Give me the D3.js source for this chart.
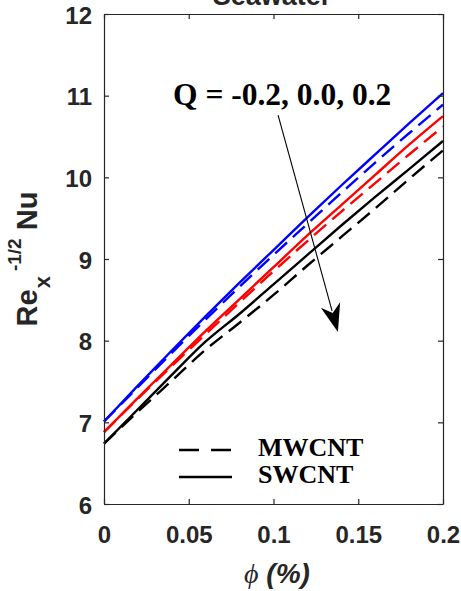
<!DOCTYPE html>
<html><head><meta charset="utf-8">
<script src="https://cdn.jsdelivr.net/npm/d3@7"></script>
<style>
html,body{margin:0;padding:0;background:#fff;}
svg{display:block;}
</style></head>
<body>
<script>
// ---- data ----
const phi = [0, 0.02, 0.04, 0.06, 0.08, 0.1, 0.12, 0.14, 0.16, 0.18, 0.2];
const swcntQm02 = [7.01, 7.45, 7.88, 8.30, 8.71, 9.11, 9.51, 9.90, 10.28, 10.66, 11.03];
const mwcntQm02 = [7.01, 7.43, 7.85, 8.26, 8.66, 9.05, 9.43, 9.81, 10.18, 10.54, 10.89];
const swcntQ00  = [6.88, 7.30, 7.71, 8.12, 8.51, 8.90, 9.29, 9.66, 10.03, 10.40, 10.75];
const mwcntQ00  = [6.88, 7.29, 7.69, 8.08, 8.47, 8.85, 9.22, 9.58, 9.93, 10.28, 10.62];
const swcntQ02  = [6.74, 7.16, 7.58, 7.99, 8.33, 8.69, 9.05, 9.41, 9.76, 10.10, 10.445];
const mwcntQ02  = [6.74, 7.13, 7.51, 7.89, 8.22, 8.56, 8.92, 9.27, 9.62, 9.98, 10.33];
const xTicks = [0, 0.05, 0.1, 0.15, 0.2];
const xTickLabels = ["0", "0.05", "0.1", "0.15", "0.2"];
const yTicks = [6, 7, 8, 9, 10, 11, 12];
const legendLabels = ["MWCNT", "SWCNT"];
const annotation = "Q = -0.2, 0.0, 0.2";
const arrowFrom = [0.1027, 10.763];
const arrowTo = [0.138, 8.106];

const series = [
  {v: swcntQm02, color: "#0000ff", dash: null},
  {v: mwcntQm02, color: "#0000ff", dash: "16,8"},
  {v: swcntQ00,  color: "#ff0000", dash: null},
  {v: mwcntQ00,  color: "#ff0000", dash: "16,8"},
  {v: swcntQ02,  color: "#000000", dash: null},
  {v: mwcntQ02,  color: "#000000", dash: "16,8"}
];

// ---- layout ----
const W = 461, H = 591;
const L = 104, R = 443, T = 14, B = 504;
const axisColor = "#262626";

const svg = d3.select("body").append("svg").attr("width", W).attr("height", H);

const x = d3.scaleLinear().domain([0, 0.2]).range([L, R]);
const y = d3.scaleLinear().domain([6, 12]).range([B, T]);

// title (cut off at the top, as in the reference)
svg.append("text").attr("x", 272).attr("y", 5).attr("text-anchor", "middle")
  .attr("font-family", "'Liberation Sans', Arial, sans-serif").attr("font-weight", "bold")
  .attr("font-size", 27).attr("fill", axisColor).text("Seawater");

// lines
const line = d3.line().x((d, i) => x(phi[i])).y(d => y(d)).curve(d3.curveMonotoneX);
const g = svg.append("g");
series.forEach(s => {
  g.append("path").datum(s.v).attr("d", line)
    .attr("fill", "none").attr("stroke", s.color).attr("stroke-width", 2.4)
    .attr("stroke-dasharray", s.dash);
});

// axes
const fontAx = "'Liberation Sans', Arial, Helvetica, sans-serif";
const xAxis = svg.append("g").attr("transform", `translate(0,${B})`)
  .call(d3.axisBottom(x).tickValues(xTicks).tickFormat((d, i) => xTickLabels[i])
    .tickSizeInner(-5).tickSizeOuter(0).tickPadding(22));
const yAxis = svg.append("g").attr("transform", `translate(${L},0)`)
  .call(d3.axisLeft(y).tickValues(yTicks).tickFormat(d3.format("d"))
    .tickSizeInner(-5).tickSizeOuter(0).tickPadding(12));
const xTop = svg.append("g").attr("transform", `translate(0,${T})`)
  .call(d3.axisTop(x).tickValues(xTicks).tickFormat("").tickSizeInner(-5).tickSizeOuter(0));
const yRight = svg.append("g").attr("transform", `translate(${R},0)`)
  .call(d3.axisRight(y).tickValues(yTicks).tickFormat("").tickSizeInner(-5).tickSizeOuter(0));
[xAxis, yAxis, xTop, yRight].forEach(a => {
  a.selectAll("path.domain").attr("stroke", axisColor).attr("stroke-width", 1.2);
  a.selectAll(".tick line").attr("stroke", axisColor).attr("stroke-width", 1.2);
  a.selectAll(".tick text").attr("fill", axisColor).attr("font-family", fontAx)
    .attr("font-weight", "bold").attr("font-size", 24);
});
yAxis.selectAll(".tick text").attr("dy", "0.38em");

// x label
const xl = svg.append("text").attr("x", 277).attr("y", 583).attr("text-anchor", "middle")
  .attr("fill", axisColor).attr("font-size", 28);
xl.append("tspan").attr("font-family", "'Liberation Serif', 'Times New Roman', serif")
  .attr("font-style", "italic").text("\u03d5");
xl.append("tspan").attr("font-family", fontAx).attr("font-weight", "bold")
  .attr("font-style", "italic").text(" (%)");

// y label
const yl = svg.append("text").attr("transform", "translate(37,259) rotate(-90)")
  .attr("text-anchor", "middle").attr("fill", axisColor)
  .attr("font-family", fontAx).attr("font-weight", "bold").attr("font-size", 29);
yl.append("tspan").text("Re");
yl.append("tspan").attr("font-size", 22).attr("dy", 13).attr("dx", 1).text("x");
yl.append("tspan").attr("font-size", 19).attr("dy", -29).attr("dx", 5).text("-1/2");
yl.append("tspan").attr("dy", 16).text(" Nu");

// annotation text
svg.append("text").attr("x", 173).attr("y", 105)
  .attr("font-family", "'Liberation Serif', 'Times New Roman', serif")
  .attr("font-weight", "bold").attr("font-size", 31.5).attr("fill", "#000").text(annotation);

// arrow
const p0 = [x(arrowFrom[0]), y(arrowFrom[1])];
const p1 = [x(arrowTo[0]), y(arrowTo[1])];
const dx = p1[0] - p0[0], dy = p1[1] - p0[1];
const len = Math.hypot(dx, dy);
const ux = dx / len, uy = dy / len, px = -uy, py = ux;
const HL = 28, HW = 10;
const bc = [p1[0] - HL * ux, p1[1] - HL * uy];
svg.append("line").attr("x1", p0[0]).attr("y1", p0[1]).attr("x2", bc[0] + 6 * ux).attr("y2", bc[1] + 6 * uy)
  .attr("stroke", "#000").attr("stroke-width", 1.1);
const notch = [p1[0] - 0.7 * HL * ux, p1[1] - 0.7 * HL * uy];
svg.append("path").attr("d", d3.line()([
  p1, [bc[0] + HW * px, bc[1] + HW * py], notch, [bc[0] - HW * px, bc[1] - HW * py]
]) + "Z").attr("fill", "#000");

// legend
const legY = [450, 477];
const lg = svg.append("g");
legendLabels.forEach((lab, i) => {
  lg.append("line").attr("x1", 179).attr("x2", 232).attr("y1", legY[i]).attr("y2", legY[i])
    .attr("stroke", "#000").attr("stroke-width", 2.4)
    .attr("stroke-dasharray", i === 0 ? "20,12" : null);
  lg.append("text").attr("x", 258).attr("y", legY[i] + 6)
    .attr("font-family", "'Liberation Serif', 'Times New Roman', serif")
    .attr("font-weight", "bold").attr("font-size", 26).attr("fill", "#000").text(lab);
});
</script>
</body></html>
